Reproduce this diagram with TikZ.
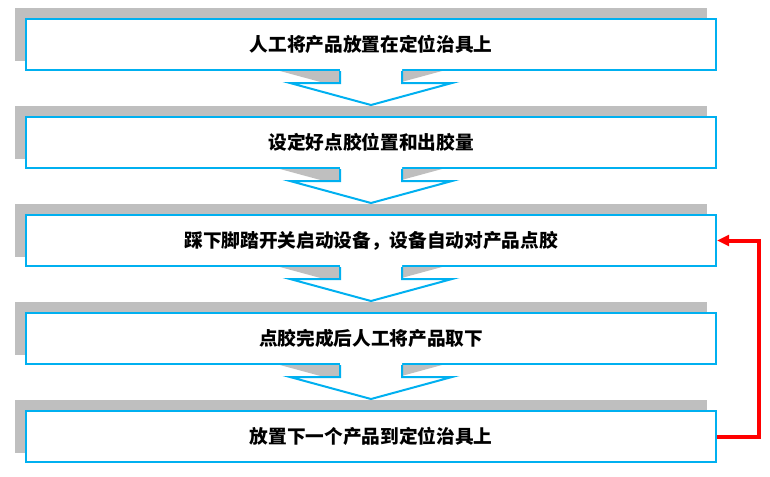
\documentclass[tikz,border=0pt]{standalone}
\usepackage{fontspec}
\newfontfamily\cjk{Noto Sans CJK SC}
\usetikzlibrary{backgrounds,arrows.meta}
\definecolor{boxblue}{RGB}{0,176,240}
\definecolor{shadowgray}{RGB}{191,191,191}
\tikzset{
  procbox/.style={draw=boxblue, line width=1.5pt, fill=white, inner sep=0pt,
    minimum width=517.5pt, minimum height=38.25pt, font=\cjk\bfseries\fontsize{14pt}{16pt}\selectfont},
  loopline/.style={draw=red, line width=3pt, -{Triangle[length=9pt,width=8pt]}}
}
% chevron below a box, drawn from its south anchor
\newcommand{\chevpath}[1]{(-31,#1) -- (-31,12) -- (-81,12) -- (0,34) -- (81,12) -- (31,12) -- (31,#1)}
\newcommand{\downchev}[1]{%
  \begin{scope}[shift={(#1.south)}]
    \fill[white] \chevpath{-2} -- cycle;
    \draw[boxblue, line width=1.5pt] \chevpath{0};
  \end{scope}
  \begin{scope}[on background layer, shift={(#1.south)}, shift={(-10,-12)}]
    \fill[shadowgray] \chevpath{-12} -- cycle;
  \end{scope}%
}

\begin{document}
\begin{tikzpicture}[x=0.75pt, y=-0.75pt]
    \useasboundingbox (0,0) rectangle (770,476);

    \node[procbox] (s1) at (371,44.5) {人工将产品放置在定位治具上};
    \node[procbox] (s2) at (371,142.5) {设定好点胶位置和出胶量};
    \node[procbox] (s3) at (371,240.5) {踩下脚踏开关启动设备，设备自动对产品点胶};
    \node[procbox] (s4) at (371,338.5) {点胶完成后人工将产品取下};
    \node[procbox] (s5) at (371,436.5) {放置下一个产品到定位治具上};

    % gray shadows behind the boxes
    \begin{scope}[on background layer]
      \foreach \s in {s1,s2,s3,s4,s5} {
        \fill[shadowgray] ([shift={(-10,-10)}]\s.south west) rectangle ([shift={(-10,-10)}]\s.north east);
      }
    \end{scope}

    \foreach \s in {s1,s2,s3,s4} {
      \downchev{\s}
    }

    \draw[loopline] (s5.east) -- ++(42,0) |- (s3.east);
\end{tikzpicture}
\end{document}
